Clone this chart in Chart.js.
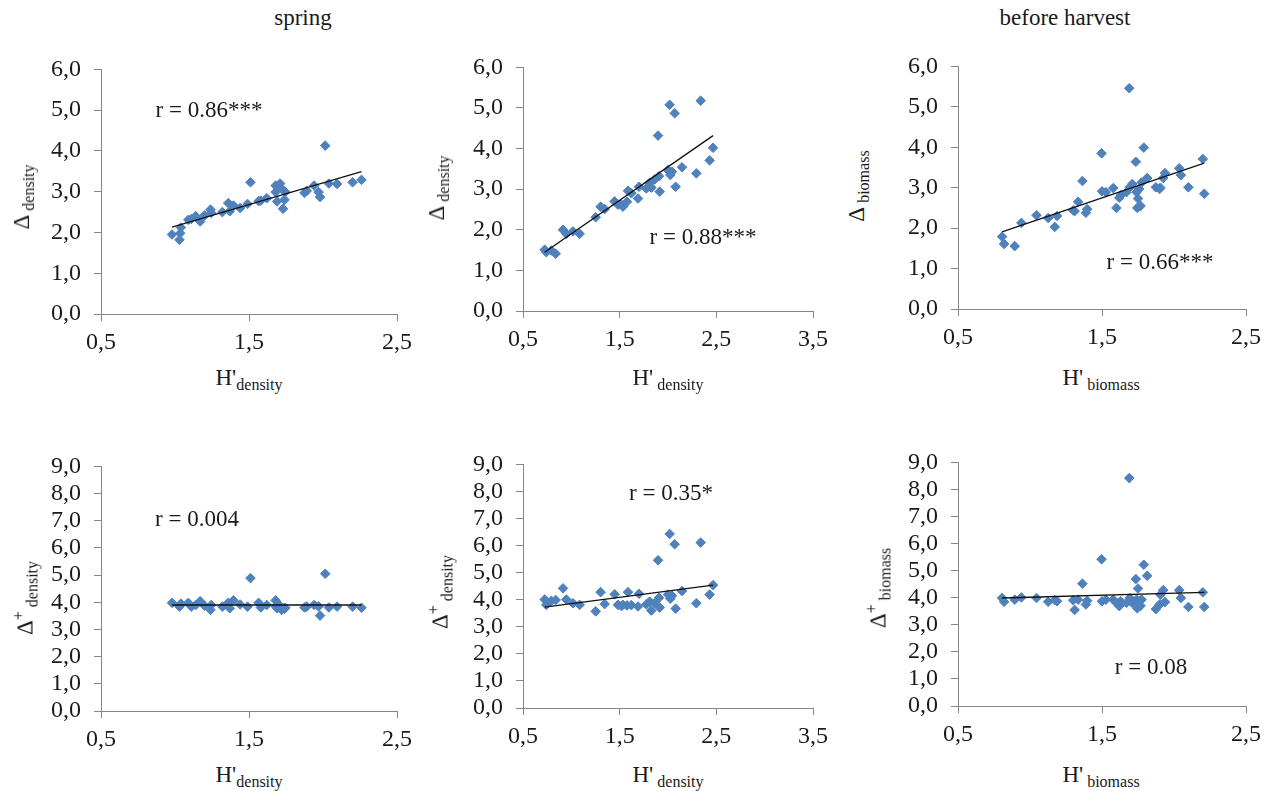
<!DOCTYPE html>
<html>
<head>
<meta charset="utf-8">
<script src="https://cdn.jsdelivr.net/npm/chart.js@4.4.1/dist/chart.umd.min.js"></script>
<style>
  body { margin: 0; background: #fff; width: 1275px; height: 791px; position: relative; overflow: hidden;
         font-family: "Liberation Serif", serif; color: #1a1a1a; }
  canvas { position: absolute; }
  .t { position: absolute; white-space: nowrap; font-size: 23px; line-height: 23px; }
  .sub { font-size: 16px; vertical-align: -5px; }
  .sup { font-size: 16px; vertical-align: 9px; }
  .yt { transform: translate(-50%, -50%) rotate(-90deg); }
  .xt { transform: translateX(-50%); }
  .c { transform: translate(-50%, -50%); }
</style>
</head>
<body>
<div class="t c" style="left:303px;top:17px">spring</div>
<div class="t c" style="left:1065px;top:17px">before harvest</div>

<div class="t c" style="left:209px;top:109px">r = 0.86***</div>
<div class="t c" style="left:703px;top:236px">r = 0.88***</div>
<div class="t c" style="left:1160px;top:261px">r = 0.66***</div>
<div class="t c" style="left:197px;top:518px">r = 0.004</div>
<div class="t c" style="left:671px;top:492px">r = 0.35*</div>
<div class="t c" style="left:1151px;top:666px">r = 0.08</div>

<div class="t yt" style="left:25px;top:197px">Δ<span class="sub"> density</span></div>
<div class="t yt" style="left:440px;top:188px">Δ<span class="sub"> density</span></div>
<div class="t yt" style="left:860px;top:186px">Δ<span class="sub"> biomass</span></div>
<div class="t yt" style="left:25px;top:598px">Δ<span class="sup">+</span><span class="sub"> density</span></div>
<div class="t yt" style="left:440px;top:592px">Δ<span class="sup">+</span><span class="sub"> density</span></div>
<div class="t yt" style="left:878px;top:588px">Δ<span class="sup">+</span><span class="sub"> biomass</span></div>

<div class="t xt" style="left:249px;top:366px">H'<span class="sub">density</span></div>
<div class="t xt" style="left:668px;top:366px">H'<span class="sub"> density</span></div>
<div class="t xt" style="left:1101px;top:366px">H'<span class="sub"> biomass</span></div>
<div class="t xt" style="left:249px;top:763px">H'<span class="sub">density</span></div>
<div class="t xt" style="left:668px;top:763px">H'<span class="sub"> density</span></div>
<div class="t xt" style="left:1101px;top:763px">H'<span class="sub"> biomass</span></div>

<script>
// column 1 (spring, density)
const springH = [0.98, 1.03, 1.035, 1.04, 1.09, 1.11, 1.14, 1.17, 1.20, 1.24, 1.245, 1.32, 1.36, 1.37, 1.395,
  1.44, 1.49, 1.51, 1.565, 1.58, 1.62, 1.68, 1.68, 1.69, 1.71, 1.72, 1.73, 1.74, 1.745, 1.875, 1.89, 1.94,
  1.97, 1.98, 2.015, 2.04, 2.095, 2.20, 2.26];
const springDelta = [1.95, 1.82, 1.98, 2.12, 2.31, 2.33, 2.40, 2.27, 2.42, 2.56, 2.48, 2.50, 2.72, 2.52, 2.66,
  2.60, 2.70, 3.23, 2.77, 2.78, 2.84, 3.15, 2.99, 2.76, 3.20, 3.07, 2.58, 2.80, 2.99, 2.97, 3.02, 3.15,
  2.99, 2.87, 4.13, 3.20, 3.19, 3.23, 3.29];
const springDeltaPlus = [3.98, 3.84, 3.90, 3.95, 3.98, 3.84, 3.90, 4.04, 3.87, 3.72, 3.90, 3.84, 3.98, 3.78, 4.07,
  3.92, 3.84, 4.89, 3.98, 3.81, 3.90, 4.07, 3.85, 3.78, 3.87, 3.72, 3.78, 3.76, 3.80, 3.81, 3.84, 3.90,
  3.85, 3.51, 5.05, 3.81, 3.84, 3.84, 3.80];

// column 2 (density)
const col2H = [0.724, 0.741, 0.793, 0.838, 0.914, 0.948, 1.017, 1.086, 1.252, 1.303, 1.345, 1.448, 1.483,
  1.517, 1.534, 1.576, 1.586, 1.621, 1.69, 1.70, 1.776, 1.81, 1.828, 1.862, 1.897, 1.907, 1.914, 2.0,
  2.017, 2.024, 2.041, 2.069, 2.079, 2.145, 2.293, 2.338, 2.431, 2.466];
const col2Delta = [1.51, 1.45, 1.49, 1.41, 2.00, 1.90, 1.96, 1.90, 2.31, 2.57, 2.51, 2.70, 2.62,
  2.62, 2.57, 2.69, 2.96, 2.90, 2.77, 3.06, 3.02, 3.16, 3.04, 3.24, 4.32, 3.32, 2.94, 3.47,
  5.08, 3.35, 3.43, 4.87, 3.06, 3.54, 3.39, 5.18, 3.71, 4.02];
const col2DeltaPlus = [4.01, 3.81, 3.96, 3.99, 4.42, 4.01, 3.87, 3.81, 3.57, 4.28, 3.84, 4.20, 3.81,
  3.77, 3.81, 3.79, 4.28, 3.80, 3.75, 4.22, 3.83, 3.93, 3.60, 3.87, 5.46, 4.07, 3.71, 4.19,
  6.43, 4.04, 4.15, 6.05, 3.67, 4.32, 3.87, 6.11, 4.19, 4.54];

// column 3 (before harvest, biomass)
const harvestH = [0.806, 0.82, 0.894, 0.94, 1.045, 1.126, 1.172, 1.188, 1.30, 1.31, 1.334, 1.364, 1.388,
  1.397, 1.497, 1.50, 1.527, 1.578, 1.60, 1.62, 1.63, 1.67, 1.689, 1.693, 1.71, 1.735, 1.74, 1.745,
  1.75, 1.758, 1.768, 1.775, 1.79, 1.814, 1.874, 1.90, 1.905, 1.925, 1.937, 2.036, 2.048, 2.10, 2.20, 2.21];
const harvestDelta = [1.79, 1.61, 1.555, 2.13, 2.32, 2.25, 2.03, 2.30, 2.44, 2.42, 2.65, 3.165, 2.38,
  2.47, 3.85, 2.91, 2.89, 2.99, 2.50, 2.75, 2.81, 2.89, 5.46, 3.01, 3.09, 3.64, 2.89, 2.50,
  2.73, 2.97, 2.55, 3.13, 3.99, 3.24, 3.01, 2.97, 3.00, 3.24, 3.36, 3.48, 3.31, 3.01, 3.71, 2.85];
const harvestDeltaPlus = [3.99, 3.85, 3.93, 4.01, 3.99, 3.85, 3.91, 3.87, 3.91, 3.55, 3.93, 4.52, 3.75,
  3.89, 5.42, 3.87, 3.93, 3.93, 3.81, 3.69, 3.87, 3.81, 8.42, 3.99, 3.81, 4.69, 3.93, 3.61,
  4.34, 3.87, 3.70, 3.93, 5.22, 4.81, 3.58, 3.75, 4.11, 4.28, 3.84, 4.28, 3.99, 3.66, 4.20, 3.66];

// trendline values at the lowest and highest H'
const springDeltaTrend = [2.13, 3.49];
const col2DeltaTrend = [1.445, 4.32];
const harvestDeltaTrend = [1.91, 3.61];
const springDeltaPlusTrend = [3.90, 3.90];
const col2DeltaPlusTrend = [3.73, 4.54];
const harvestDeltaPlusTrend = [3.99, 4.20];

// ticks
const xTicksShort = [0.5, 1.5, 2.5];
const xTicksLong = [0.5, 1.5, 2.5, 3.5];
const yTicksDelta = [0, 1, 2, 3, 4, 5, 6];
const yTicksDeltaPlus = [0, 1, 2, 3, 4, 5, 6, 7, 8, 9];

const YW = 70, XH = 40, PT = 16, PR = 22;
const fontFamily = 'Liberation Serif';
const fmt = v => v.toFixed(1).replace('.', ',');

function panel(area, xs, ys, trend, xTicks, yTicks) {
  const canvas = document.createElement('canvas');
  const w = YW + (area.right - area.left) + PR;
  const h = PT + (area.bottom - area.top) + XH;
  canvas.width = w;
  canvas.height = h;
  canvas.style.left = (area.left - YW) + 'px';
  canvas.style.top = (area.top - PT) + 'px';
  canvas.style.width = w + 'px';
  canvas.style.height = h + 'px';
  document.body.insertBefore(canvas, document.body.firstChild);

  const xMin = Math.min(...xs), xMax = Math.max(...xs);
  const axisStyle = {
    grid: { drawOnChartArea: false, tickLength: 7, color: '#868686' },
    border: { color: '#868686' }
  };

  new Chart(canvas.getContext('2d'), {
    type: 'scatter',
    data: {
      datasets: [
        {
          data: [{ x: xMin, y: trend[0] }, { x: xMax, y: trend[1] }],
          showLine: true, borderColor: '#111', borderWidth: 1.3, pointRadius: 0
        },
        {
          data: xs.map((x, i) => ({ x: x, y: ys[i] })),
          pointStyle: 'rectRot', pointRadius: 4.8, borderWidth: 1,
          backgroundColor: '#4F81BD', borderColor: '#4F81BD'
        }
      ]
    },
    options: {
      responsive: false,
      animation: false,
      events: [],
      layout: { padding: { top: PT, right: PR, left: 0, bottom: 0 } },
      plugins: { legend: { display: false }, tooltip: { enabled: false } },
      scales: {
        x: {
          type: 'linear', min: xTicks[0], max: xTicks[xTicks.length - 1],
          afterFit: s => { s.height = XH; },
          afterBuildTicks: s => { s.ticks = xTicks.map(v => ({ value: v })); },
          ...axisStyle,
          ticks: { font: { family: fontFamily, size: 24 }, color: '#1a1a1a', padding: 7,
                   maxRotation: 0, autoSkip: false, callback: v => fmt(v) }
        },
        y: {
          min: yTicks[0], max: yTicks[yTicks.length - 1],
          afterFit: s => { s.width = YW; },
          afterBuildTicks: s => { s.ticks = yTicks.map(v => ({ value: v })); },
          ...axisStyle,
          ticks: { font: { family: fontFamily, size: 24 }, color: '#1a1a1a', padding: 13,
                   autoSkip: false, callback: v => fmt(v) }
        }
      }
    }
  });
}

function drawAll() {
  panel({ left: 101, top: 58, right: 397, bottom: 314 }, springH, springDelta, springDeltaTrend, xTicksShort, yTicksDelta);
  panel({ left: 523, top: 56, right: 813, bottom: 311 }, col2H, col2Delta, col2DeltaTrend, xTicksLong, yTicksDelta);
  panel({ left: 958, top: 55, right: 1246, bottom: 309 }, harvestH, harvestDelta, harvestDeltaTrend, xTicksShort, yTicksDelta);
  panel({ left: 101, top: 455, right: 397, bottom: 711 }, springH, springDeltaPlus, springDeltaPlusTrend, xTicksShort, yTicksDeltaPlus);
  panel({ left: 523, top: 453, right: 813, bottom: 708 }, col2H, col2DeltaPlus, col2DeltaPlusTrend, xTicksLong, yTicksDeltaPlus);
  panel({ left: 958, top: 451, right: 1246, bottom: 706 }, harvestH, harvestDeltaPlus, harvestDeltaPlusTrend, xTicksShort, yTicksDeltaPlus);
}

document.fonts.load('24px "Liberation Serif"').then(drawAll, drawAll);
</script>
</body>
</html>
